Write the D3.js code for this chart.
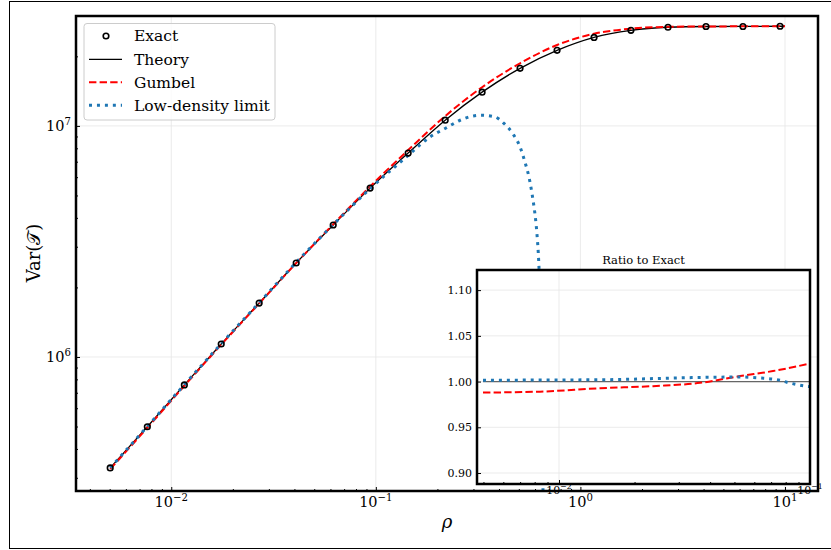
<!DOCTYPE html>
<html><head><meta charset="utf-8">
<script src="https://cdn.jsdelivr.net/npm/d3@7"></script>
<style>
body{margin:0;background:#fff}
svg{display:block}
text{font-family:"DejaVu Serif","Liberation Serif",serif;fill:#000}
</style>
</head><body>
<svg id="chart" width="831" height="550"></svg>
<script>
// Exact variance at the sampled densities
const exactRho = [0.00503, 0.00764, 0.01159, 0.01755, 0.0269, 0.0408, 0.0619, 0.0938, 0.1439, 0.2183,
                  0.3307, 0.507, 0.769, 1.166, 1.766, 2.68, 4.11, 6.23, 9.46];
const exactVar = [3.31e5, 4.99e5, 7.57e5, 1.138e6, 1.711e6, 2.551e6, 3.725e6, 5.38e6, 7.63e6, 1.059e7,
                  1.400e7, 1.775e7, 2.123e7, 2.416e7, 2.592e7, 2.673e7, 2.693e7, 2.693e7, 2.70e7];

// Theory curve
const theoryRho = [0.00503, 0.00764, 0.01159, 0.01755, 0.0269, 0.0408, 0.0619, 0.0938, 0.1439, 0.2183,
                   0.3307, 0.507, 0.769, 1.166, 1.766, 2.68, 4.11, 6.23, 9.46, 10.0];
const theoryVar = [3.31e5, 4.99e5, 7.57e5, 1.138e6, 1.711e6, 2.551e6, 3.725e6, 5.38e6, 7.63e6, 1.059e7,
                   1.400e7, 1.775e7, 2.123e7, 2.416e7, 2.592e7, 2.673e7, 2.693e7, 2.695e7, 2.70e7, 2.70e7];

// Gumbel approximation
const gumbelRho = [0.00503, 0.00764, 0.01159, 0.01755, 0.0269, 0.0408, 0.0619, 0.0938, 0.1439, 0.2183,
                   0.3307, 0.507, 0.769, 1.166, 1.766, 2.68, 4.11, 6.23, 9.46, 10.0];
const gumbelVar = [3.27e5, 4.94e5, 7.50e5, 1.131e6, 1.704e6, 2.547e6, 3.755e6, 5.47e6, 7.86e6, 1.103e7,
                   1.470e7, 1.867e7, 2.24e7, 2.505e7, 2.636e7, 2.684e7, 2.695e7, 2.697e7, 2.70e7, 2.70e7];

// Low-density limit
const lowRho = [0.00503, 0.00764, 0.01159, 0.01755, 0.0269, 0.0408, 0.0619, 0.0938, 0.1439, 0.1842,
                0.2181, 0.2581, 0.2997, 0.3295, 0.3826, 0.4201, 0.4701, 0.5069, 0.5363, 0.5611,
                0.5781, 0.5932, 0.6067, 0.6156, 0.6226, 0.6277, 0.635, 0.645, 0.652, 0.656, 0.6585];
const lowVar = [3.315e5, 5.0e5, 7.59e5, 1.141e6, 1.717e6, 2.564e6, 3.74e6, 5.35e6, 7.45e6, 8.97e6,
                9.745e6, 1.058e7, 1.104e7, 1.112e7, 1.094e7, 1.030e7, 9.18e6, 8.11e6, 6.95e6, 5.98e6,
                5.185e6, 4.466e6, 3.785e6, 3.26e6, 2.808e6, 2.418e6, 1.86e6, 1.1e6, 5.8e5, 2.9e5, 1.2e5];

// Ratios to the exact variance (inset)
const gumbelRatioRho = [0.00498, 0.0084, 0.01457, 0.0237, 0.0365, 0.0526, 0.0712, 0.1];
const gumbelRatio    = [0.988, 0.989, 0.9927, 0.995, 0.9986, 1.006, 1.0115, 1.0197];
const lowRatioRho = [0.00498, 0.01457, 0.0365, 0.0526, 0.0632, 0.076, 0.0808, 0.0899, 0.0969, 0.1];
const lowRatio    = [1.0015, 1.002, 1.0045, 1.005, 1.0039, 1.0015, 0.9993, 0.9964, 0.9949, 0.9945];
const theoryRatioRho = [0.00498, 0.1];
const theoryRatio    = [1.0, 1.0];

// Tick positions
const xMajor = [0.01, 0.1, 1, 10];
const yMajor = [1e6, 1e7];
const insetYTicks = [0.90, 0.95, 1.00, 1.05, 1.10];
const insetXMajor = [0.01, 0.1];

const legendLabels = ["Exact", "Theory", "Gumbel", "Low-density limit"];

const svg = d3.select("#chart");
const FONT = 14.5;

const box = {l: 76, r: 818, t: 16, b: 491};
const x = d3.scaleLog().domain([0.003423, 14.5]).range([box.l, box.r]);
const y = d3.scaleLog().domain([2.63e5, 2.99e7]).range([box.b, box.t]);

// figure frame
svg.append("rect").attr("x", 9.5).attr("y", 1.5).attr("width", 830).attr("height", 547)
  .attr("fill", "none").attr("stroke", "#000").attr("stroke-width", 1);

const defs = svg.append("defs");
defs.append("clipPath").attr("id", "mainClip").append("rect")
  .attr("x", box.l).attr("y", box.t).attr("width", box.r - box.l).attr("height", box.b - box.t);

function minorTicks(lo, hi) {
  const out = [];
  for (let e = Math.floor(Math.log10(lo)); e <= Math.ceil(Math.log10(hi)); e++) {
    for (let m = 2; m <= 9; m++) {
      const v = m * Math.pow(10, e);
      if (v >= lo && v <= hi) out.push(v);
    }
  }
  return out;
}

function powLabel(g, px, py, exp, size, anchor) {
  const t = g.append("text").attr("x", px).attr("y", py)
    .attr("font-size", size).attr("text-anchor", anchor);
  t.append("tspan").text("10");
  t.append("tspan").attr("font-size", size * 0.7).attr("dy", -size * 0.42)
    .text(exp < 0 ? "\u2212" + (-exp) : String(exp));
  return t;
}

// grid
const grid = svg.append("g");
grid.selectAll("line.gx").data(xMajor).join("line")
  .attr("x1", d => x(d)).attr("x2", d => x(d)).attr("y1", box.t).attr("y2", box.b)
  .attr("stroke", "#e6e6e6").attr("stroke-width", 0.8);
grid.selectAll("line.gy").data(yMajor).join("line")
  .attr("y1", d => y(d)).attr("y2", d => y(d)).attr("x1", box.l).attr("x2", box.r)
  .attr("stroke", "#e6e6e6").attr("stroke-width", 0.8);

// curves
const plot = svg.append("g").attr("clip-path", "url(#mainClip)");
const lineGen = d3.line().x(d => x(d[0])).y(d => y(d[1])).curve(d3.curveMonotoneX);
const zip = (a, b) => a.map((v, i) => [v, b[i]]);

plot.append("path").datum(zip(theoryRho, theoryVar)).attr("d", lineGen)
  .attr("fill", "none").attr("stroke", "#000").attr("stroke-width", 1.3);
plot.append("path").datum(zip(gumbelRho, gumbelVar)).attr("d", lineGen)
  .attr("fill", "none").attr("stroke", "#ff0000").attr("stroke-width", 2)
  .attr("stroke-dasharray", "7.4,3.2");
plot.append("path").datum(zip(lowRho, lowVar)).attr("d", lineGen)
  .attr("fill", "none").attr("stroke", "#1f77b4").attr("stroke-width", 3)
  .attr("stroke-dasharray", "3,4.95");
plot.selectAll("circle.exact").data(zip(exactRho, exactVar)).join("circle")
  .attr("cx", d => x(d[0])).attr("cy", d => y(d[1])).attr("r", 2.8)
  .attr("fill", "none").attr("stroke", "#000").attr("stroke-width", 1.6);

// axes with inward ticks
const xAxisMajor = d3.axisBottom(x).tickValues(xMajor).tickSize(-4).tickFormat("");
const xAxisMinor = d3.axisBottom(x).tickValues(minorTicks(0.003423, 14.5)).tickSize(-2).tickFormat("");
const yAxisMajor = d3.axisLeft(y).tickValues(yMajor).tickSize(-4).tickFormat("");
const yAxisMinor = d3.axisLeft(y).tickValues(minorTicks(2.63e5, 2.99e7)).tickSize(-2).tickFormat("");
[xAxisMinor, xAxisMajor].forEach(a => {
  const g = svg.append("g").attr("transform", `translate(0,${box.b})`).call(a);
  g.select(".domain").remove();
  g.selectAll("line").attr("stroke", "#000").attr("stroke-width", 1);
});
[yAxisMinor, yAxisMajor].forEach(a => {
  const g = svg.append("g").attr("transform", `translate(${box.l},0)`).call(a);
  g.select(".domain").remove();
  g.selectAll("line").attr("stroke", "#000").attr("stroke-width", 1);
});

// tick labels
const labels = svg.append("g");
xMajor.forEach(v => powLabel(labels, x(v), box.b + 16, Math.round(Math.log10(v)), FONT, "middle"));
yMajor.forEach(v => powLabel(labels, box.l - 5, y(v) + 5, Math.round(Math.log10(v)), FONT, "end"));

// spines
svg.append("rect").attr("x", box.l).attr("y", box.t).attr("width", box.r - box.l).attr("height", box.b - box.t)
  .attr("fill", "none").attr("stroke", "#000").attr("stroke-width", 2.5);

// axis titles
svg.append("text").attr("x", (box.l + box.r) / 2).attr("y", 528).attr("text-anchor", "middle")
  .attr("font-size", 18).attr("font-style", "italic").text("\u03C1");
svg.append("text").attr("transform", "translate(40,253) rotate(-90)").attr("text-anchor", "middle")
  .attr("font-size", 18).text("Var(\uD835\uDCAF)");

// legend
const lg = svg.append("g");
lg.append("rect").attr("x", 84).attr("y", 23.5).attr("width", 191).attr("height", 96.5)
  .attr("rx", 3).attr("fill", "#fff").attr("fill-opacity", 0.8)
  .attr("stroke", "#cccccc").attr("stroke-width", 1);
const rowY = [36, 59.3, 82.3, 105.3];
const styles = [
  {type: "marker"},
  {stroke: "#000", width: 1.3, dash: null},
  {stroke: "#ff0000", width: 2, dash: "7.4,3.2"},
  {stroke: "#1f77b4", width: 3, dash: "3,4.95"}
];
legendLabels.forEach((lab, i) => {
  const s = styles[i];
  if (s.type === "marker") {
    lg.append("circle").attr("cx", 106).attr("cy", rowY[i]).attr("r", 2.8)
      .attr("fill", "none").attr("stroke", "#000").attr("stroke-width", 1.6);
  } else {
    const l = lg.append("line").attr("x1", 89).attr("x2", 122).attr("y1", rowY[i]).attr("y2", rowY[i])
      .attr("stroke", s.stroke).attr("stroke-width", s.width);
    if (s.dash) l.attr("stroke-dasharray", s.dash);
  }
  lg.append("text").attr("x", 134).attr("y", rowY[i] + 5.3).attr("font-size", 15.5).text(lab);
});

// inset: ratio to exact
const ib = {l: 477, r: 810, t: 270, b: 484};
const ix = d3.scaleLog().domain([0.004713, 0.1]).range([ib.l, ib.r]);
const iy = d3.scaleLinear().domain([0.888, 1.122]).range([ib.b, ib.t]);
defs.append("clipPath").attr("id", "insetClip").append("rect")
  .attr("x", ib.l).attr("y", ib.t).attr("width", ib.r - ib.l).attr("height", ib.b - ib.t);

const ins = svg.append("g");
ins.append("rect").attr("x", ib.l).attr("y", ib.t).attr("width", ib.r - ib.l).attr("height", ib.b - ib.t)
  .attr("fill", "#fff");
ins.selectAll("line.igx").data(insetXMajor).join("line")
  .attr("x1", d => ix(d)).attr("x2", d => ix(d)).attr("y1", ib.t).attr("y2", ib.b)
  .attr("stroke", "#e6e6e6").attr("stroke-width", 0.8);
ins.selectAll("line.igy").data(insetYTicks).join("line")
  .attr("y1", d => iy(d)).attr("y2", d => iy(d)).attr("x1", ib.l).attr("x2", ib.r)
  .attr("stroke", "#e6e6e6").attr("stroke-width", 0.8);

const iplot = ins.append("g").attr("clip-path", "url(#insetClip)");
const iline = d3.line().x(d => ix(d[0])).y(d => iy(d[1])).curve(d3.curveMonotoneX);
iplot.append("path").datum(zip(theoryRatioRho, theoryRatio)).attr("d", iline)
  .attr("fill", "none").attr("stroke", "#666").attr("stroke-width", 1.3);
iplot.append("path").datum(zip(gumbelRatioRho, gumbelRatio)).attr("d", iline)
  .attr("fill", "none").attr("stroke", "#ff0000").attr("stroke-width", 2)
  .attr("stroke-dasharray", "7.4,3.2");
iplot.append("path").datum(zip(lowRatioRho, lowRatio)).attr("d", iline)
  .attr("fill", "none").attr("stroke", "#1f77b4").attr("stroke-width", 3)
  .attr("stroke-dasharray", "3,4.95");

const ixMajor = d3.axisBottom(ix).tickValues(insetXMajor).tickSize(-4).tickFormat("");
const ixMinor = d3.axisBottom(ix).tickValues(minorTicks(0.004713, 0.1)).tickSize(-2).tickFormat("");
const iyAxis = d3.axisLeft(iy).tickValues(insetYTicks).tickSize(-4).tickFormat("");
[ixMinor, ixMajor].forEach(a => {
  const g = ins.append("g").attr("transform", `translate(0,${ib.b})`).call(a);
  g.select(".domain").remove();
  g.selectAll("line").attr("stroke", "#000").attr("stroke-width", 1);
});
{
  const g = ins.append("g").attr("transform", `translate(${ib.l},0)`).call(iyAxis);
  g.select(".domain").remove();
  g.selectAll("line").attr("stroke", "#000").attr("stroke-width", 1);
}
insetYTicks.forEach(v => ins.append("text").attr("x", ib.l - 5).attr("y", iy(v) + 4)
  .attr("text-anchor", "end").attr("font-size", 11).text(v.toFixed(2)));
insetXMajor.forEach(v => powLabel(ins, ix(v), ib.b + 10, Math.round(Math.log10(v)), 11, "middle"));

ins.append("rect").attr("x", ib.l).attr("y", ib.t).attr("width", ib.r - ib.l).attr("height", ib.b - ib.t)
  .attr("fill", "none").attr("stroke", "#000").attr("stroke-width", 2.5);
ins.append("text").attr("x", (ib.l + ib.r) / 2).attr("y", 264).attr("text-anchor", "middle")
  .attr("font-size", 11.5).text("Ratio to Exact");
</script>
</body></html>
